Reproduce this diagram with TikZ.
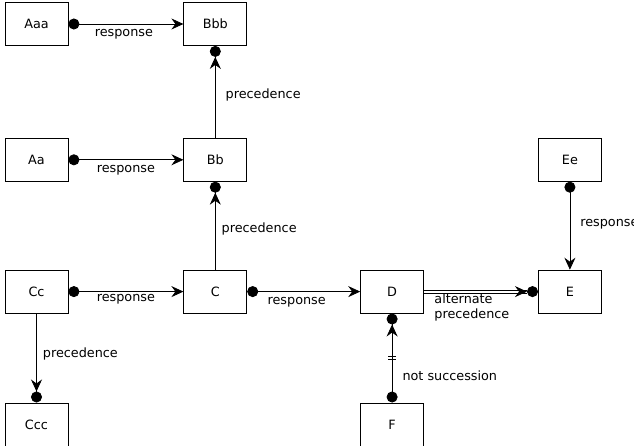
\documentclass[tikz,border=0pt]{standalone}
\usepackage{fontspec}
\setmainfont{DejaVu Sans}
\usetikzlibrary{arrows.meta,positioning,decorations.markings}

\begin{document}
\begin{tikzpicture}[
    x=1pt, y=1pt,
    node distance=90pt and 115pt,
    font=\fontsize{12.8}{15}\selectfont,
    act/.style={rectangle,draw,line width=0.8pt,
                minimum width=63pt,minimum height=43pt,inner sep=0pt},
    head/.tip={Stealth[length=12pt,width=11pt,inset=4pt]},
    ball/.tip={Circle[length=11pt]},
    headball/.tip={Stealth[length=12pt,width=11pt,inset=4pt] Circle[length=11pt]},
    resp/.style={line width=0.8pt,ball-head},
    prec/.style={line width=0.8pt,-headball},
    altprec/.style={double,double distance=2.2pt,line width=0.8pt,-headball},
    notsucc/.style={line width=0.8pt,ball-headball,postaction={decorate},
                    decoration={markings,mark=at position 0.5 with
                    {\draw[line width=0.8pt,-] (-1.7,-3.8) -- (-1.7,3.8) (1.7,-3.8) -- (1.7,3.8);}}},
    lbl/.style={inner sep=2pt,align=left}
  ]
    \useasboundingbox (0,0) rectangle (634,-446);

    \node[act] (aaa) at (36.5,-24) {Aaa};
    \node[act,right=of aaa] (bbb) {Bbb};
    \node[act,below=92pt of aaa] (aa) {Aa};
    \node[act,right=of aa] (bb) {Bb};
    \node[act,below=88pt of aa] (cc) {Cc};
    \node[act,right=of cc] (c) {C};
    \node[act,right=113pt of c] (d) {D};
    \node[act,right=114pt of d] (e) {E};
    \node[act,above=88pt of e] (ee) {Ee};
    \node[act,below=89pt of cc] (ccc) {Ccc};
    \node[act,below=89pt of d] (f) {F};

    \draw[resp] (aaa) -- node[lbl,below=3pt,xshift=-2pt] {response} (bbb);
    \draw[prec] (bb) -- node[lbl,right=8pt,pos=0.47] {precedence} (bbb);
    \draw[resp] (aa) -- node[lbl,below=3pt] {response} (bb);
    \draw[prec] (c) -- node[lbl,right=4pt,pos=0.46] {precedence} (bb);
    \draw[resp] (cc) -- node[lbl,below] {response} (c);
    \draw[prec] (cc) -- node[lbl,right=4pt,pos=0.45] {precedence} (ccc);
    \draw[resp] (c) -- node[lbl,below=3pt,xshift=-7pt] {response} (d);
    \draw[altprec] (d) -- node[lbl,below,pos=0.42] {alternate\\precedence} (e);
    \draw[resp] (ee) -- node[lbl,right=8pt,pos=0.48] {response} (e);
    \draw[notsucc] (f) -- node[lbl,right=8pt,pos=0.3] {not succession} (d);
\end{tikzpicture}
\end{document}
